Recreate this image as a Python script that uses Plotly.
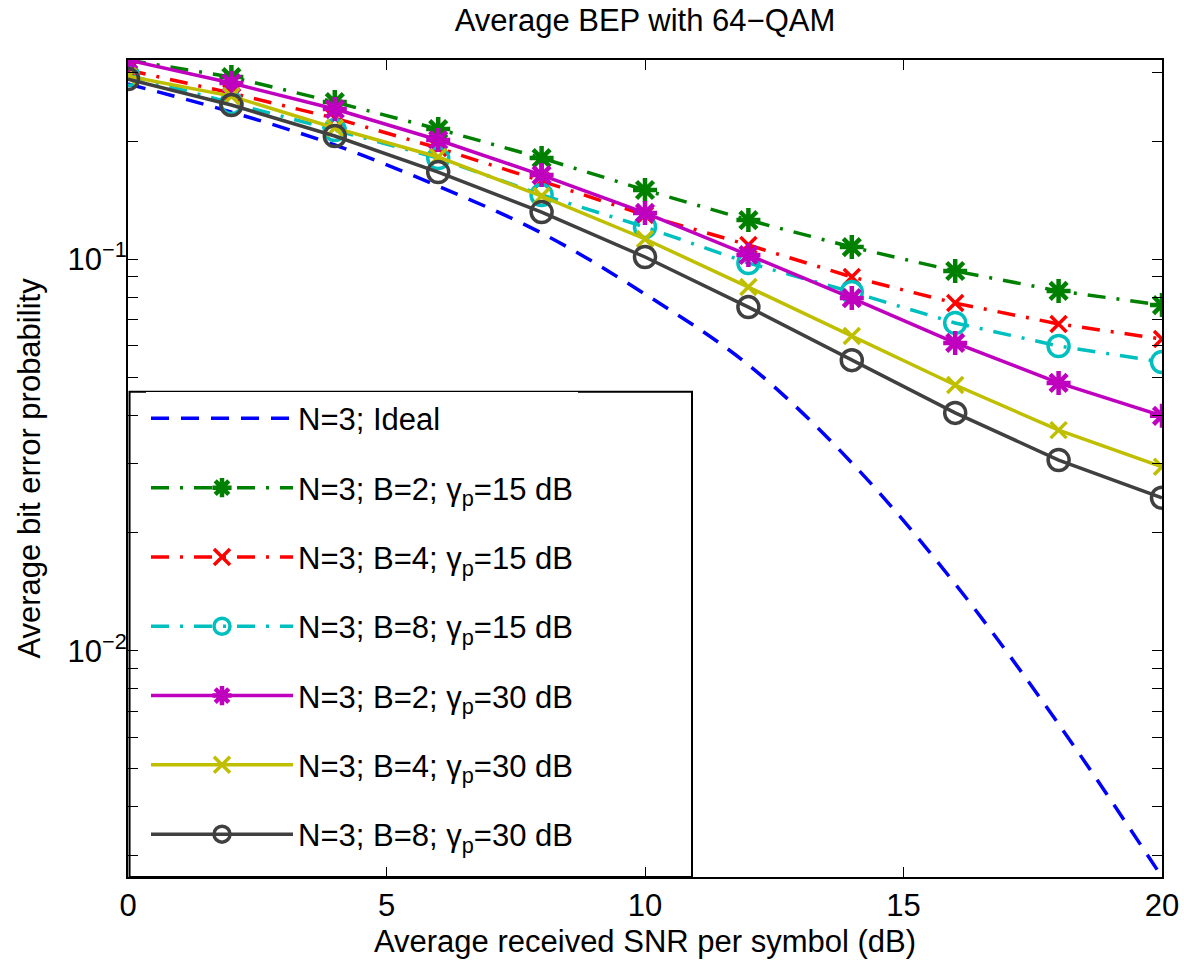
import plotly.graph_objects as go
import numpy as np

snr_db = [0, 2, 4, 6, 8, 10, 12, 14, 16, 18, 20]

bep_ideal = [0.2796, 0.2371, 0.1954, 0.1535, 0.1165, 0.0814, 0.0537, 0.0302, 0.01482, 0.00651, 0.00265]
bep_b2_15 = [0.3219, 0.2913, 0.2515, 0.2146, 0.1810, 0.1500, 0.1257, 0.1073, 0.0932, 0.0829, 0.0763]
bep_b4_15 = [0.3034, 0.2652, 0.2289, 0.1920, 0.1581, 0.1295, 0.1086, 0.0900, 0.0772, 0.0683, 0.0625]
bep_b8_15 = [0.2947, 0.2500, 0.2134, 0.1810, 0.1457, 0.1207, 0.0977, 0.0824, 0.0687, 0.0600, 0.0546]
bep_b2_30 = [0.3219, 0.2812, 0.2414, 0.2012, 0.1638, 0.1311, 0.1024, 0.0795, 0.0611, 0.0483, 0.0398]
bep_b4_30 = [0.2929, 0.2604, 0.2159, 0.1821, 0.1448, 0.1125, 0.0848, 0.0636, 0.0477, 0.0366, 0.0295]
bep_b8_30 = [0.2878, 0.2471, 0.2060, 0.1667, 0.1318, 0.1012, 0.0754, 0.0552, 0.0405, 0.0307, 0.0246]

names = [
    "N=3; Ideal",
    "N=3; B=2; γ<sub>p</sub>=15 dB",
    "N=3; B=4; γ<sub>p</sub>=15 dB",
    "N=3; B=8; γ<sub>p</sub>=15 dB",
    "N=3; B=2; γ<sub>p</sub>=30 dB",
    "N=3; B=4; γ<sub>p</sub>=30 dB",
    "N=3; B=8; γ<sub>p</sub>=30 dB",
]

ytick_major = [0.01, 0.1]
ytick_major_text = ["10<sup>−2</sup>", "10<sup>−1</sup>"]
ytick_minor = [0.003, 0.004, 0.005, 0.006, 0.007, 0.008, 0.009,
               0.02, 0.03, 0.04, 0.05, 0.06, 0.07, 0.08, 0.09, 0.2, 0.3]
xtick_vals = [0, 5, 10, 15, 20]

FONT = "Liberation Sans, Arial, Helvetica, sans-serif"
FS = 31
dashdot = "18px,11px,3px,11px"

W, H = 1184, 961
L, R, T, B = 128, 22, 60, 84
PW = W - L - R  # plot width in px

fig = go.Figure()

fig.add_trace(go.Scatter(x=snr_db, y=bep_ideal, mode="lines", name=names[0],
                         line=dict(color="#0000FF", width=3.5, dash="18px,12px", shape="spline"),
                         legendgroup="g0"))

series = [
    (bep_b2_15, names[1], "#008000", dashdot, "asterisk-open", 20, "g1"),
    (bep_b4_15, names[2], "#FF0000", dashdot, "x-thin-open", 16, "g2"),
    (bep_b8_15, names[3], "#00BFBF", dashdot, "circle-open", 21, "g3"),
    (bep_b2_30, names[4], "#BF00BF", "solid", "asterisk-open", 20, "g4"),
    (bep_b4_30, names[5], "#BFBF00", "solid", "x-thin-open", 16, "g5"),
    (bep_b8_30, names[6], "#404040", "solid", "circle-open", 21, "g6"),
]
for yv, nm, col, dsh, sym, sz, grp in series:
    lw = 4.5 if sym.startswith("asterisk") else 3.5
    fig.add_trace(go.Scatter(
        x=snr_db, y=yv, mode="lines+markers", name=nm, legendgroup=grp,
        line=dict(color=col, width=3.5, dash=dsh),
        marker=dict(symbol=sym, size=sz, color=col, line=dict(color=col, width=lw)),
    ))

fig.update_layout(
    template="none",
    width=W, height=H,
    margin=dict(l=L, r=R, t=T, b=B, autoexpand=False),
    paper_bgcolor="white", plot_bgcolor="white",
    font=dict(family=FONT, size=FS, color="black"),
    title=dict(text="Average BEP with 64−QAM", x=0.5, xref="paper", xanchor="center",
               y=1 - 20 / H, yanchor="middle", yref="container",
               font=dict(family=FONT, size=FS, color="black")),
    showlegend=True,
    legend=dict(x=18 / PW, y=0.594, xanchor="left", yanchor="top",
                bgcolor="white", borderwidth=0, tracegroupgap=26,
                itemwidth=142, font=dict(family=FONT, size=FS, color="black"),
                itemclick=False),
)

fig.update_xaxes(
    range=[0, 20], tickvals=xtick_vals, ticks="inside", ticklen=10, tickwidth=1.2,
    tickcolor="black", showline=True, linecolor="black", linewidth=2, mirror="ticks",
    showgrid=False, zeroline=False, automargin=False, ticklabeloverflow="allow",
    title=dict(text="Average received SNR per symbol (dB)", standoff=8,
               font=dict(family=FONT, size=FS, color="black")),
    tickfont=dict(family=FONT, size=FS, color="black"),
)
fig.update_yaxes(
    type="log", range=[np.log10(0.00265), np.log10(0.322)],
    tickvals=ytick_major, ticktext=ytick_major_text, ticks="inside", ticklen=10, tickwidth=1.2,
    tickcolor="black", showline=True, linecolor="black", linewidth=2, mirror="ticks",
    minor=dict(tickvals=ytick_minor, ticks="inside", ticklen=10, tickwidth=1.2,
               tickcolor="black", showgrid=False),
    showgrid=False, zeroline=False, automargin=False, ticklabelstandoff=-7,
    title=dict(text="Average bit error probability", standoff=18,
               font=dict(family=FONT, size=FS, color="black")),
    tickfont=dict(family=FONT, size=FS, color="black"),
)

# legend frame (reference: box from left axis to x~692px, y from 392px down to the bottom axis)
fig.add_shape(type="rect", xref="paper", yref="paper",
              x0=0.0015, x1=(692 - 128) / PW, y0=0.0, y1=0.594,
              line=dict(color="black", width=2), fillcolor="rgba(0,0,0,0)", layer="above")

# remove the browser's default 8px body margin so the figure fills the window exactly
fig.write_html("out.html", config={"displayModeBar": False},
               post_script="document.body.style.margin='0';document.body.style.overflow='hidden';")
